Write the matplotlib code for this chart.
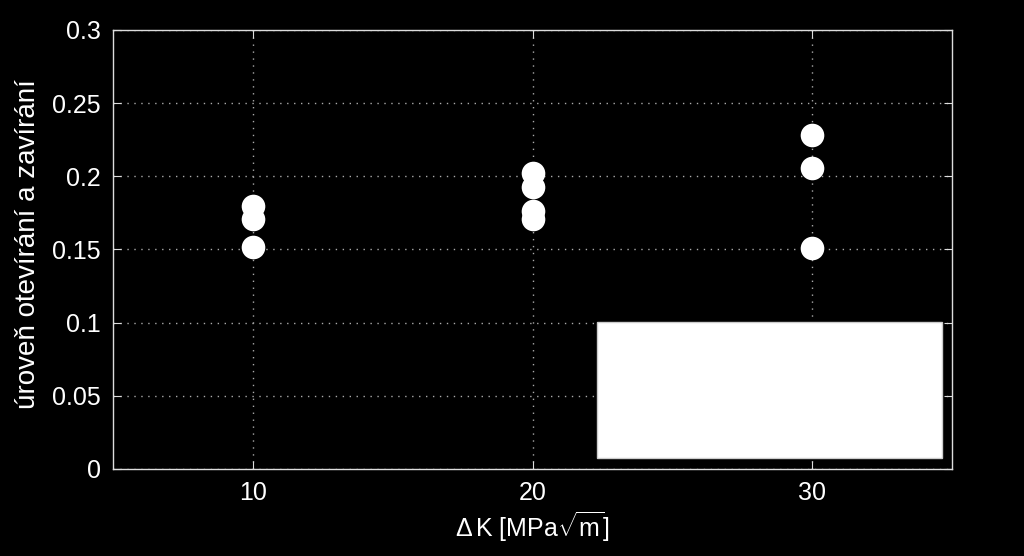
from matplotlib import pyplot as plt
from matplotlib.patches import Rectangle
from matplotlib.ticker import FormatStrFormatter
import matplotlib

matplotlib.rcParams['font.family'] = ['Liberation Sans', 'DejaVu Sans']
matplotlib.rcParams['mathtext.fontset'] = 'custom'
matplotlib.rcParams['mathtext.rm'] = 'Liberation Sans'
matplotlib.rcParams['mathtext.it'] = 'Liberation Sans'

# data
dk_values = [10, 10, 10, 20, 20, 20, 20, 30, 30, 30]
levels = [0.180, 0.171, 0.152, 0.202, 0.193, 0.176, 0.171, 0.228, 0.206, 0.151]
x_ticks = [10, 20, 30]
y_ticks = [0, 0.05, 0.1, 0.15, 0.2, 0.25, 0.3]


def plotLevels():
    fig = plt.figure(figsize=(10.24, 5.56), dpi=100, facecolor='black')
    ax = fig.add_axes([113 / 1024, 1 - 469 / 556, 839 / 1024, 439 / 556])
    ax.set_facecolor('black')

    ax.plot(dk_values, levels, ls='none', marker='o', color='white',
            markersize=17, markeredgewidth=0, clip_on=False, zorder=3)

    ax.set_xlim(5, 35)
    ax.set_ylim(0, 0.3)
    ax.set_xticks(x_ticks)
    ax.set_yticks(y_ticks)
    ax.yaxis.set_major_formatter(FormatStrFormatter('%g'))

    ax.grid(True, color='#aaaaaa', ls=(0, (1, 4)), lw=1.0)
    for s in ax.spines.values():
        s.set_color('#dddddd')
        s.set_linewidth(1.0)
    ax.tick_params(direction='in', top=True, right=True, colors='#dddddd',
                   labelcolor='white', labelsize=18, length=6, pad=9)

    # white legend box in the lower right corner
    ax.add_patch(Rectangle((0.577, 0.025), 0.411, 0.31, transform=ax.transAxes,
                           facecolor='white', edgecolor='#cccccc', lw=1,
                           zorder=4))

    ax.set_xlabel(r'$\Delta\,$K [MPa$\sqrt{\mathrm{m}}$]', color='white',
                  fontsize=18, labelpad=3)
    ax.set_ylabel('úroveň otevírání a zavírání', color='white', fontsize=20)
    ax.yaxis.set_label_coords(-0.086, 0.512)

    fig.savefig('out.png', dpi=100, facecolor='black')


if __name__ == '__main__':
    plotLevels()
